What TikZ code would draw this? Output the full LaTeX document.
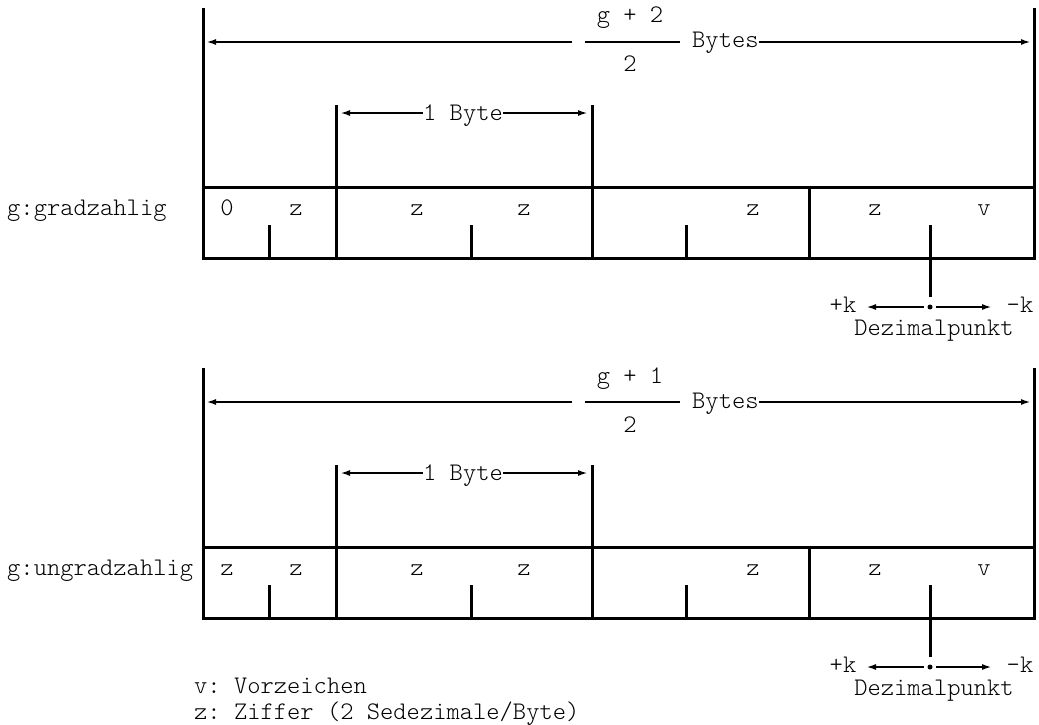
\documentclass[tikz,border=0pt]{standalone}
\usepackage{fontspec}
\setmonofont{lmmonolt10-regular.otf}
\usetikzlibrary{arrows.meta}
\frenchspacing

\begin{document}
\begin{tikzpicture}[x=1pt,y=-1pt,
	txt/.style={font=\ttfamily\fontsize{25.3}{30}\selectfont,inner sep=0pt,anchor=base},
	frame/.style={line width=3pt},
	bar/.style={line width=2pt},
	dim/.style={line width=2pt,-{Latex[length=10pt,width=6pt]}}]
	\useasboundingbox (0,0) rectangle (1039,725);

	% g gradzahlig
	\begin{scope}[name prefix=e-]
	\coordinate (lt) at (203, 8);
	\coordinate (lm) at (203, 187);
	\coordinate (lb) at (203, 258);
	\coordinate (rt) at (1034, 8);
	\coordinate (rm) at (1034, 187);
	\coordinate (rb) at (1034, 258);
	\coordinate (b1t) at (336, 105);
	\coordinate (b1b) at (336, 258);
	\coordinate (b2t) at (592, 105);
	\coordinate (b2b) at (592, 258);
	\coordinate (b3t) at (809, 187);
	\coordinate (b3b) at (809, 258);
	\coordinate (t1t) at (269, 225);
	\coordinate (t1b) at (269, 258);
	\coordinate (t2t) at (471, 225);
	\coordinate (t2b) at (471, 258);
	\coordinate (t3t) at (686, 225);
	\coordinate (t3b) at (686, 258);
	\coordinate (t4t) at (930, 225);
	\coordinate (t4b) at (930, 297);
	\coordinate (dp) at (930, 307);

	\draw[frame] (lt) -- (lb) -- (rb) -- (rt);
	\draw[frame] (lm) -- (rm);
	\draw[frame] (b1t) -- (b1b);
	\draw[frame] (b2t) -- (b2b);
	\draw[frame] (b3t) -- (b3b);
	\draw[frame] (t1t) -- (t1b);
	\draw[frame] (t2t) -- (t2b);
	\draw[frame] (t3t) -- (t3b);
	\draw[frame] (t4t) -- (t4b);

	% Gesamtlaenge
	\coordinate (al) at (206, 42);
	\coordinate (gl) at (572, 42);
	\coordinate (fl) at (585, 42);
	\coordinate (fr) at (680, 42);
	\coordinate (ar) at (1031, 42);
	\node[txt] (num) at (630, 23) {g + 2};
	\node[txt] (den) at (630, 72) {2};
	\node[txt,anchor=base west] (bytes) at (692, 48) {Bytes};
	\draw[dim] (gl) -- (al);
	\draw[bar] (fl) -- (fr);
	\draw[dim] (bytes.east |- ar) -- (ar);

	% 1 Byte
	\coordinate (bl) at (340, 113);
	\coordinate (br) at (588, 113);
	\node[txt] (byte) at (463, 120) {1 Byte};
	\draw[dim] (byte.west |- bl) -- (bl);
	\draw[dim] (byte.east |- br) -- (br);

	% Inhalt
	\node[txt,anchor=base west] (lbl) at (7, 215) {g:gradzahlig};
	\node[txt] (c1) at (227, 215) {0};
	\node[txt] (c2) at (296, 215) {z};
	\node[txt] (c3) at (417, 215) {z};
	\node[txt] (c4) at (524, 215) {z};
	\node[txt] (c5) at (753, 215) {z};
	\node[txt] (c6) at (875, 215) {z};
	\node[txt] (c7) at (984, 215) {v};

	% Dezimalpunkt
	\coordinate (dpl) at (924, 307);
	\coordinate (dpr) at (936, 307);
	\coordinate (kl) at (866, 307);
	\coordinate (kr) at (992, 307);
	\fill (dp) circle (2.5pt);
	\draw[dim] (dpl) -- (kl);
	\draw[dim] (dpr) -- (kr);
	\node[txt] (plusk) at (843, 312) {+k};
	\node[txt] (minusk) at (1020, 312) {-k};
	\node[txt] (dez) at (934, 335) {Dezimalpunkt};
	\end{scope}

	% g ungradzahlig
	\begin{scope}[yshift=-360pt,name prefix=u-]
	\coordinate (lt) at (203, 8);
	\coordinate (lm) at (203, 187);
	\coordinate (lb) at (203, 258);
	\coordinate (rt) at (1034, 8);
	\coordinate (rm) at (1034, 187);
	\coordinate (rb) at (1034, 258);
	\coordinate (b1t) at (336, 105);
	\coordinate (b1b) at (336, 258);
	\coordinate (b2t) at (592, 105);
	\coordinate (b2b) at (592, 258);
	\coordinate (b3t) at (809, 187);
	\coordinate (b3b) at (809, 258);
	\coordinate (t1t) at (269, 225);
	\coordinate (t1b) at (269, 258);
	\coordinate (t2t) at (471, 225);
	\coordinate (t2b) at (471, 258);
	\coordinate (t3t) at (686, 225);
	\coordinate (t3b) at (686, 258);
	\coordinate (t4t) at (930, 225);
	\coordinate (t4b) at (930, 297);
	\coordinate (dp) at (930, 307);

	\draw[frame] (lt) -- (lb) -- (rb) -- (rt);
	\draw[frame] (lm) -- (rm);
	\draw[frame] (b1t) -- (b1b);
	\draw[frame] (b2t) -- (b2b);
	\draw[frame] (b3t) -- (b3b);
	\draw[frame] (t1t) -- (t1b);
	\draw[frame] (t2t) -- (t2b);
	\draw[frame] (t3t) -- (t3b);
	\draw[frame] (t4t) -- (t4b);

	% Gesamtlaenge
	\coordinate (al) at (206, 42);
	\coordinate (gl) at (572, 42);
	\coordinate (fl) at (585, 42);
	\coordinate (fr) at (680, 42);
	\coordinate (ar) at (1031, 42);
	\node[txt] (num) at (630, 23) {g + 1};
	\node[txt] (den) at (630, 72) {2};
	\node[txt,anchor=base west] (bytes) at (692, 48) {Bytes};
	\draw[dim] (gl) -- (al);
	\draw[bar] (fl) -- (fr);
	\draw[dim] (bytes.east |- ar) -- (ar);

	% 1 Byte
	\coordinate (bl) at (340, 113);
	\coordinate (br) at (588, 113);
	\node[txt] (byte) at (463, 120) {1 Byte};
	\draw[dim] (byte.west |- bl) -- (bl);
	\draw[dim] (byte.east |- br) -- (br);

	% Inhalt
	\node[txt,anchor=base west] (lbl) at (7, 215) {g:ungradzahlig};
	\node[txt] (c1) at (227, 215) {z};
	\node[txt] (c2) at (296, 215) {z};
	\node[txt] (c3) at (417, 215) {z};
	\node[txt] (c4) at (524, 215) {z};
	\node[txt] (c5) at (753, 215) {z};
	\node[txt] (c6) at (875, 215) {z};
	\node[txt] (c7) at (984, 215) {v};

	% Dezimalpunkt
	\coordinate (dpl) at (924, 307);
	\coordinate (dpr) at (936, 307);
	\coordinate (kl) at (866, 307);
	\coordinate (kr) at (992, 307);
	\fill (dp) circle (2.5pt);
	\draw[dim] (dpl) -- (kl);
	\draw[dim] (dpr) -- (kr);
	\node[txt] (plusk) at (843, 312) {+k};
	\node[txt] (minusk) at (1020, 312) {-k};
	\node[txt] (dez) at (934, 335) {Dezimalpunkt};
	\end{scope}

	% Legende
	\node[txt,anchor=base west] (leg1) at (194, 693) {v: Vorzeichen};
	\node[txt,anchor=base west] (leg2) at (194, 719) {z: Ziffer (2 Sedezimale/Byte)};
\end{tikzpicture}
\end{document}
